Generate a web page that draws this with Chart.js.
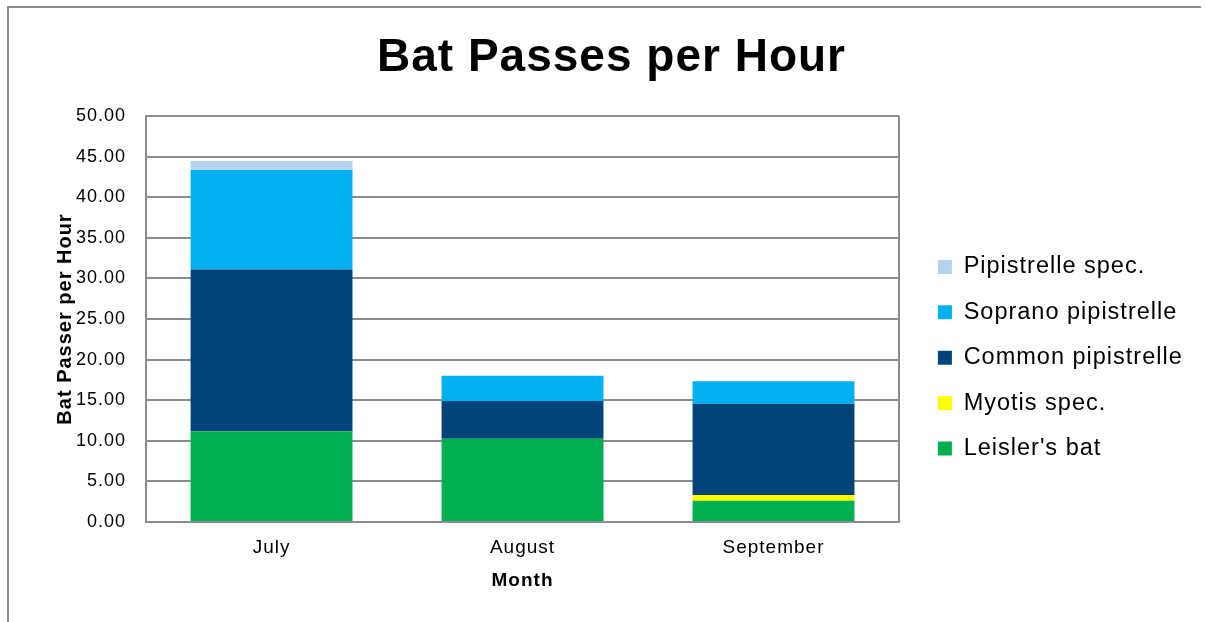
<!DOCTYPE html>
<html>
<head>
<meta charset="utf-8">
<script src="https://cdn.jsdelivr.net/npm/chart.js@4.4.1/dist/chart.umd.min.js"></script>
<style>
  html, body { margin: 0; padding: 0; background: #fff; }
  #wrap { position: relative; width: 1206px; height: 622px; overflow: hidden; }
  #frame { position: absolute; left: 7px; top: 6px; width: 1194px; height: 700px;
           border-top: 2px solid #8c8c8c; border-left: 2px solid #8c8c8c; box-sizing: border-box; }
  #box { position: absolute; left: 0; top: 0; width: 1206px; height: 622px; }
</style>
</head>
<body>
<div id="wrap">
  <div id="frame"></div>
  <div id="box"><canvas id="c"></canvas></div>
</div>
<script>
const months = ["July", "August", "September"];
const leislersBat = [11.17, 10.26, 2.63];
const myotisSpec = [0, 0, 0.70];
const commonPipistrelle = [19.93, 4.64, 11.24];
const sopranoPipistrelle = [12.25, 3.12, 2.76];
const pipistrelleSpec = [1.11, 0, 0];
const yTicks = { min: 0, max: 50, step: 5 };

const FONT = "'Liberation Sans', Arial, sans-serif";
const GRID = "#8c8c8c";
const SPACING = "1px";

const datasets = [
  { label: "Leisler's bat", data: leislersBat, backgroundColor: "#00B050" },
  { label: "Myotis spec.", data: myotisSpec, backgroundColor: "#FFFF00" },
  { label: "Common pipistrelle", data: commonPipistrelle, backgroundColor: "#00447A" },
  { label: "Soprano pipistrelle", data: sopranoPipistrelle, backgroundColor: "#00B0F0" },
  { label: "Pipistrelle spec.", data: pipistrelleSpec, backgroundColor: "#B4D4EE" }
].map(d => Object.assign(d, { borderWidth: 0, categoryPercentage: 1, barPercentage: 0.645 }));

const layoutPlugin = {
  id: "layoutTweaks",
  afterInit(chart) {
    const lg = chart.legend;
    if (lg && !lg._patched) {
      const fit = lg.fit;
      lg.fit = function () { fit.call(this); this.width = 271; };
      lg._patched = true;
    }
  },
  beforeUpdate(chart) { chart.ctx.letterSpacing = SPACING; },
  beforeLayout(chart) { chart.ctx.letterSpacing = SPACING; },
  afterLayout(chart) {
    const lg = chart.legend;
    lg.left = 916;
    lg.right = lg.left + lg.width;
    lg.top = 233.3;
    lg.bottom = chart.height;
  },
  beforeDraw(chart) { chart.ctx.letterSpacing = SPACING; },
  afterDraw(chart) {
    const { ctx, chartArea: a } = chart;
    ctx.save();
    ctx.strokeStyle = GRID;
    ctx.lineWidth = 2;
    ctx.beginPath();
    ctx.moveTo(a.right, a.top);
    ctx.lineTo(a.right, a.bottom);
    ctx.stroke();
    ctx.restore();
  }
};

new Chart(document.getElementById("c"), {
  type: "bar",
  data: { labels: months, datasets },
  options: {
    responsive: true,
    maintainAspectRatio: false,
    animation: false,
    layout: { padding: { left: 53, right: 36, top: 0, bottom: 30.1 } },
    plugins: {
      title: {
        display: true,
        text: "Bat Passes per Hour",
        color: "#000",
        font: { family: FONT, size: 46, weight: "bold" },
        padding: { top: 30.8, bottom: 30 }
      },
      legend: {
        position: "right",
        align: "start",
        reverse: true,
        labels: {
          color: "#000",
          font: { family: FONT, size: 23.5 },
          boxWidth: 14,
          boxHeight: 14,
          padding: 21.9
        }
      },
      tooltip: { enabled: false }
    },
    scales: {
      x: {
        stacked: true,
        grid: { display: false, drawTicks: false },
        border: { display: true, color: GRID, width: 2 },
        ticks: { color: "#000", font: { family: FONT, size: 19 }, padding: 14 },
        title: { display: true, text: "Month", color: "#000", font: { family: FONT, size: 19, weight: "bold" }, padding: { top: -3.7, bottom: 0 } }
      },
      y: {
        stacked: true,
        min: yTicks.min,
        max: yTicks.max,
        grid: { color: GRID, lineWidth: 2, drawTicks: false },
        border: { display: true, color: GRID, width: 2 },
        ticks: {
          stepSize: yTicks.step,
          color: "#000",
          font: { family: FONT, size: 18 },
          padding: 20,
          callback: v => Number(v).toFixed(2)
        },
        title: { display: true, text: "Bat Passer per Hour", color: "#000", font: { family: FONT, size: 20, weight: "bold" }, padding: { top: 0, bottom: -21 } }
      }
    }
  },
  plugins: [layoutPlugin]
});
</script>
</body>
</html>
